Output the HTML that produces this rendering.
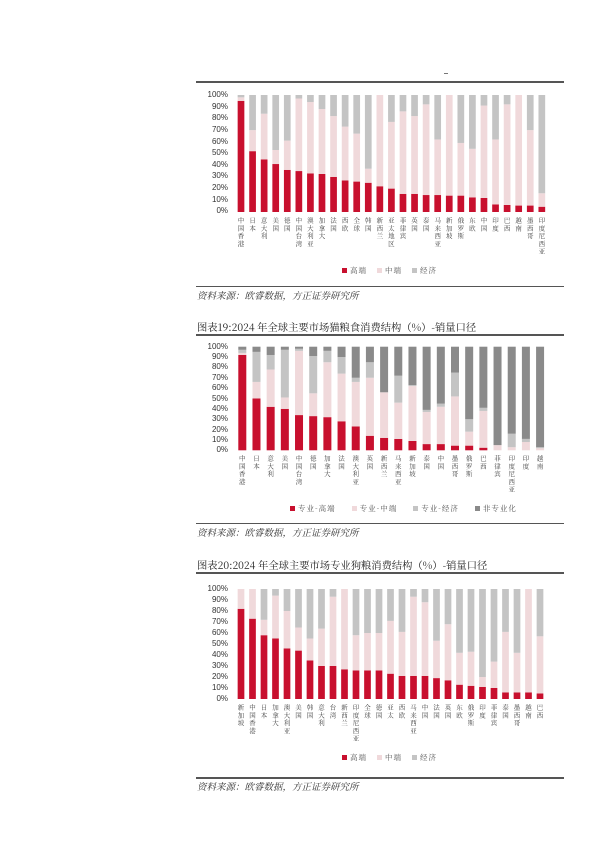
<!DOCTYPE html>
<html><head><meta charset="utf-8"><style>
html,body{margin:0;padding:0;background:#fff;}
body{width:600px;height:847px;position:relative;overflow:hidden;font-family:"Liberation Sans","Noto Sans CJK SC",sans-serif;}
.hl{position:absolute;left:196px;width:368px;height:1.5px;background:#555;}
.yt{position:absolute;width:30px;text-align:right;font-size:8px;color:#333;line-height:8px;}
.lab{position:absolute;}
.lab div{position:absolute;top:0;height:70px;writing-mode:vertical-rl;text-orientation:upright;font-family:"Noto Serif CJK SC","Noto Sans CJK SC",sans-serif;font-size:6.5px;line-height:7px;letter-spacing:1.2px;color:#444;text-align:left;white-space:nowrap;display:block;}
.leg{position:absolute;font-size:7.5px;color:#555;font-family:"Noto Serif CJK SC",sans-serif;white-space:nowrap;line-height:8px;letter-spacing:1px;}
.leg i{display:inline-block;width:5px;height:5px;margin:0 3px 0 10px;vertical-align:0;}
.title{position:absolute;left:197px;font-size:10.3px;color:#222;font-family:"Noto Serif CJK SC","Liberation Serif",serif;white-space:nowrap;line-height:12px;}
.src{position:absolute;left:197px;font-size:9.5px;color:#333;font-style:italic;font-family:"Noto Serif CJK SC",serif;white-space:nowrap;line-height:11px;}
</style></head><body>
<div style="position:absolute;left:444px;top:73px;width:4px;height:1px;background:#777"></div>
<div class="hl" style="top:81px"></div>
<svg id="s" width="600" height="847" style="position:absolute;left:0;top:0"></svg>

<div class="lab" id="l1" style="left:0;top:217px">
<div>中国香港</div><div>日本</div><div>意大利</div><div>美国</div><div>德国</div><div>中国台湾</div><div>澳大利亚</div><div>加拿大</div><div>法国</div><div>西欧</div><div>全球</div><div>韩国</div><div>新西兰</div><div>亚太地区</div><div>菲律宾</div><div>英国</div><div>泰国</div><div>马来西亚</div><div>新加坡</div><div>俄罗斯</div><div>东欧</div><div>中国</div><div>印度</div><div>巴西</div><div>越南</div><div>墨西哥</div><div>印度尼西亚</div>
</div>
<div class="leg" style="left:332px;top:267px"><i style="background:#c8102e"></i>高端<i style="background:#f0d9db"></i>中端<i style="background:#c4c4c4"></i>经济</div>
<div class="hl" style="top:285.5px"></div>
<div class="src" style="top:290px">资料来源：欧睿数据，方正证券研究所</div>

<div class="title" style="top:321px">图表19:2024 年全球主要市场猫粮食消费结构（%）-销量口径</div>
<div class="hl" style="top:334px"></div>
<div class="lab" id="l2" style="left:0;top:455px">
<div>中国香港</div><div>日本</div><div>意大利</div><div>美国</div><div>中国台湾</div><div>德国</div><div>加拿大</div><div>法国</div><div>澳大利亚</div><div>英国</div><div>新西兰</div><div>马来西亚</div><div>新加坡</div><div>泰国</div><div>中国</div><div>墨西哥</div><div>俄罗斯</div><div>巴西</div><div>菲律宾</div><div>印度尼西亚</div><div>印度</div><div>越南</div>
</div>
<div class="leg" style="left:280px;top:505px"><i style="background:#c8102e"></i>专业-高端<i style="background:#f0d9db;margin-left:16px"></i>专业-中端<i style="background:#c4c4c4;margin-left:16px"></i>专业-经济<i style="background:#8a8a8a;margin-left:16px"></i>非专业化</div>
<div class="hl" style="top:522.5px"></div>
<div class="src" style="top:527px">资料来源：欧睿数据，方正证券研究所</div>

<div class="title" style="top:559px">图表20:2024 年全球主要市场专业狗粮消费结构（%）-销量口径</div>
<div class="hl" style="top:572px"></div>
<div class="lab" id="l3" style="left:0;top:704px">
<div>新加坡</div><div>中国香港</div><div>日本</div><div>加拿大</div><div>澳大利亚</div><div>美国</div><div>韩国</div><div>意大利</div><div>台湾</div><div>新西兰</div><div>印度尼西亚</div><div>全球</div><div>德国</div><div>亚太</div><div>西欧</div><div>马来西亚</div><div>中国</div><div>法国</div><div>英国</div><div>东欧</div><div>俄罗斯</div><div>印度</div><div>菲律宾</div><div>泰国</div><div>墨西哥</div><div>越南</div><div>巴西</div>
</div>
<div class="leg" style="left:332px;top:754px"><i style="background:#c8102e"></i>高端<i style="background:#f0d9db"></i>中端<i style="background:#c4c4c4"></i>经济</div>
<div class="hl" style="top:777px"></div>
<div class="src" style="top:781px">资料来源：欧睿数据，方正证券研究所</div>

<div class="yt" style="left:198px;top:91px">100%</div><div class="yt" style="left:198px;top:102.6px">90%</div><div class="yt" style="left:198px;top:114.2px">80%</div><div class="yt" style="left:198px;top:125.9px">70%</div><div class="yt" style="left:198px;top:137.5px">60%</div><div class="yt" style="left:198px;top:149.1px">50%</div><div class="yt" style="left:198px;top:160.7px">40%</div><div class="yt" style="left:198px;top:172.3px">30%</div><div class="yt" style="left:198px;top:184px">20%</div><div class="yt" style="left:198px;top:195.6px">10%</div><div class="yt" style="left:198px;top:207.2px">0%</div>
<div class="yt" style="left:198px;top:342.7px">100%</div><div class="yt" style="left:198px;top:353px">90%</div><div class="yt" style="left:198px;top:363.4px">80%</div><div class="yt" style="left:198px;top:373.8px">70%</div><div class="yt" style="left:198px;top:384.1px">60%</div><div class="yt" style="left:198px;top:394.5px">50%</div><div class="yt" style="left:198px;top:404.9px">40%</div><div class="yt" style="left:198px;top:415.2px">30%</div><div class="yt" style="left:198px;top:425.6px">20%</div><div class="yt" style="left:198px;top:435.9px">10%</div><div class="yt" style="left:198px;top:446.3px">0%</div>
<div class="yt" style="left:198px;top:585px">100%</div><div class="yt" style="left:198px;top:596px">90%</div><div class="yt" style="left:198px;top:607px">80%</div><div class="yt" style="left:198px;top:618px">70%</div><div class="yt" style="left:198px;top:629px">60%</div><div class="yt" style="left:198px;top:640px">50%</div><div class="yt" style="left:198px;top:651px">40%</div><div class="yt" style="left:198px;top:662px">30%</div><div class="yt" style="left:198px;top:673px">20%</div><div class="yt" style="left:198px;top:684px">10%</div><div class="yt" style="left:198px;top:695px">0%</div>

<script>
var s=document.getElementById('s'),h='';
var C=['#c8102e','#f0d9db','#c4c4c4','#8a8a8a'];
function chart(x0,dx,w,y100,y0,data){
 var H=y0-y100;
 data.forEach(function(d,i){
  var cx=x0+i*dx,prev=0;
  d.push(100);
  d.forEach(function(c,k){
   if(c>prev){var ya=y0-c/100*H,yb=y0-prev/100*H;
    h+='<rect x="'+(cx-w/2)+'" y="'+ya+'" width="'+w+'" height="'+(yb-ya)+'" fill="'+C[k]+'"/>';}
   prev=Math.max(prev,c);
  });
 });
}
function labs(id,x0,dx){
 var ds=document.getElementById(id).children;
 for(var i=0;i<ds.length;i++){ds[i].style.left=(x0+i*dx-3.5)+'px';ds[i].style.width='7px';}
}
chart(241,11.57,6.7,95,212,[[95,98],[52,70],[45,84],[41,53],[36,61],[35,97],[33,94],[32.5,88],[30,82],[27,73],[26,67],[25,37],[22,100],[20,77],[15.5,86],[15.5,82],[14.5,92],[14.5,62],[14,100],[14,59],[12.5,54],[12,91],[6.5,62],[6,92],[5.5,100],[5.5,70],[4.5,16]]);
chart(242.3,14.18,8,346.7,450.3,[[92,94,97],[50,66,95],[42,78,92],[40,51,97],[34,96,98],[33,55,91],[32,85,96],[28,74,90],[23,66,70],[14,70,85],[12,56,56],[11,46,72],[9,62,63],[6,37,39],[6,42,45],[4.5,52,75],[4.5,18,30],[2.5,38,41],[0,5,5],[0,3,16],[0,8,11],[0,2,3]]);
chart(241,11.5,6.7,589,699,[[82,100],[73,100],[58,72],[55,94],[46,80],[44,65],[35,55],[30,64],[30,93],[27,100],[26,58],[26,60],[26,60],[23,71],[21,61],[21,93],[21,88],[19,53],[17,68],[13,42],[12,43],[11,20],[10,34],[6,61],[6,42],[6,100],[5,57]]);
s.innerHTML=h;
labs('l1',241,11.57);labs('l2',242.3,14.18);labs('l3',241,11.5);
</script>
</body></html>
